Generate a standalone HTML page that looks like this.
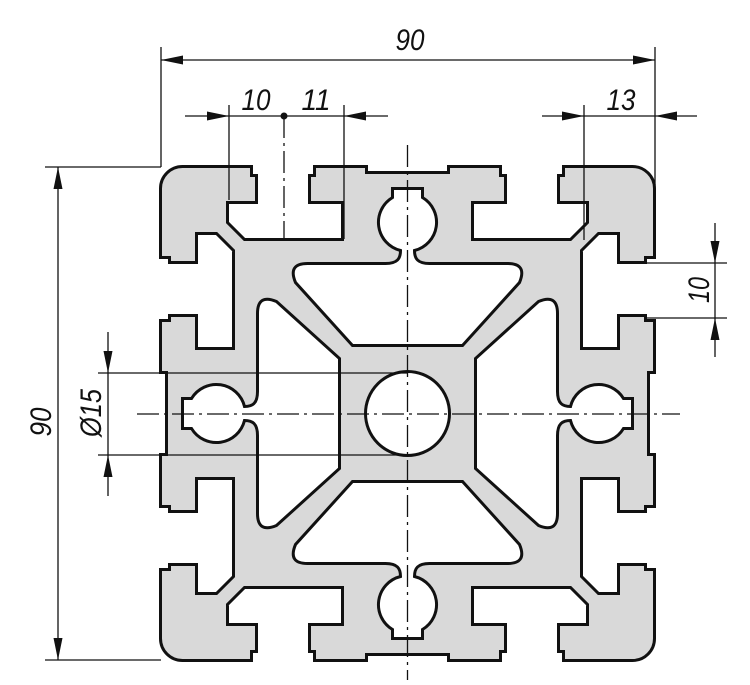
<!DOCTYPE html>
<html><head><meta charset="utf-8"><style>
html,body{margin:0;padding:0;background:#fff}
svg{display:block}
text{font-family:"Liberation Sans",sans-serif;font-style:italic;font-size:30px;fill:#111}
</style></head><body>
<svg width="750" height="685" viewBox="0 0 750 685" xmlns="http://www.w3.org/2000/svg">
<defs>
<path id="cav" d="M -55,-68 L 55,-68 L 112,-131 Q 120,-150 100,-150 L 22,-150 C 10,-150 7,-155 7,-163 A 29 29 0 0 0 15,-216 L 15,-225 L -15,-225 L -15,-216 A 29 29 0 0 0 -7,-163 C -7,-155 -10,-150 -22,-150 L -100,-150 Q -120,-150 -112,-131 Z"/>
</defs>

<g transform="translate(407.5,413.5)">
  <path fill="#d9d9d9" stroke="#111" stroke-width="3" stroke-linejoin="miter" d="
M -247,-225 A 22 22 0 0 1 -225,-247 L -156,-247 L -156,-238 L -151,-238 L -151,-211 L -180,-211 L -180,-191 L -163,-174 L -65,-174 L -65,-211 L -98,-211 L -98,-238 L -93,-238 L -93,-247 L -41,-247 L -41,-241 L 41,-241 L 41,-247 L 93,-247 L 93,-238 L 98,-238 L 98,-211 L 65,-211 L 65,-174 L 163,-174 L 180,-191 L 180,-211 L 151,-211 L 151,-238 L 156,-238 L 156,-247 L 225,-247 A 22 22 0 0 1 247,-225
L 247,-156 L 238,-156 L 238,-151 L 211,-151 L 211,-180 L 191,-180 L 174,-163 L 174,-65 L 211,-65 L 211,-98 L 238,-98 L 238,-93 L 247,-93 L 247,-41 L 241,-41 L 241,41 L 247,41 L 247,93 L 238,93 L 238,98 L 211,98 L 211,65 L 174,65 L 174,163 L 191,180 L 211,180 L 211,151 L 238,151 L 238,156 L 247,156 L 247,225 A 22 22 0 0 1 225,247
L 156,247 L 156,238 L 151,238 L 151,211 L 180,211 L 180,191 L 163,174 L 65,174 L 65,211 L 98,211 L 98,238 L 93,238 L 93,247 L 41,247 L 41,241 L -41,241 L -41,247 L -93,247 L -93,238 L -98,238 L -98,211 L -65,211 L -65,174 L -163,174 L -180,191 L -180,211 L -151,211 L -151,238 L -156,238 L -156,247 L -225,247 A 22 22 0 0 1 -247,225
L -247,156 L -238,156 L -238,151 L -211,151 L -211,180 L -191,180 L -174,163 L -174,65 L -211,65 L -211,98 L -238,98 L -238,93 L -247,93 L -247,41 L -241,41 L -241,-41 L -247,-41 L -247,-93 L -238,-93 L -238,-98 L -211,-98 L -211,-65 L -174,-65 L -174,-163 L -191,-180 L -211,-180 L -211,-151 L -238,-151 L -238,-156 L -247,-156 Z"/>
  <g fill="#fff" stroke="#111" stroke-width="3">
    <use href="#cav"/>
    <use href="#cav" transform="rotate(90)"/>
    <use href="#cav" transform="rotate(180)"/>
    <use href="#cav" transform="rotate(270)"/>
    <circle cx="0" cy="0" r="42"/>
  </g>
</g>

<!-- center lines -->
<g stroke="#111" stroke-width="1.3" fill="none" stroke-dasharray="22,5,3,5">
  <line x1="407.5" y1="145" x2="407.5" y2="680"/>
  <line x1="137" y1="414" x2="680" y2="414"/>
  <line x1="284" y1="116" x2="284" y2="240"/>
</g>
<circle cx="284" cy="116" r="3.5" fill="#111"/>

<!-- dimension lines -->
<g stroke="#111" stroke-width="1.3" fill="none">
  <line x1="161" y1="60" x2="655" y2="60"/>
  <line x1="161" y1="47" x2="161" y2="167"/>
  <line x1="655" y1="47" x2="655" y2="185"/>
  <line x1="185" y1="116" x2="388" y2="116"/>
  <line x1="229" y1="105" x2="229" y2="200"/>
  <line x1="344" y1="105" x2="344" y2="239"/>
  <line x1="542" y1="116" x2="697" y2="116"/>
  <line x1="584" y1="105" x2="584" y2="240"/>
  <line x1="715" y1="223" x2="715" y2="357"/>
  <line x1="645" y1="263" x2="727" y2="263"/>
  <line x1="645" y1="318" x2="727" y2="318"/>
  <line x1="58" y1="167" x2="58" y2="660"/>
  <line x1="45" y1="167" x2="161" y2="167"/>
  <line x1="45" y1="660" x2="161" y2="660"/>
  <line x1="108" y1="332" x2="108" y2="496"/>
  <line x1="98" y1="373" x2="407" y2="373"/>
  <line x1="98" y1="455" x2="407" y2="455"/>
</g>

<g fill="#111">
  <polygon points="161,60 183,55.5 183,64.5"/>
  <polygon points="655,60 633,55.5 633,64.5"/>
  <polygon points="229,116 207,111.5 207,120.5"/>
  <polygon points="344,116 366,111.5 366,120.5"/>
  <polygon points="584,116 562,111.5 562,120.5"/>
  <polygon points="655,116 677,111.5 677,120.5"/>
  <polygon points="715,263 710.5,241 719.5,241"/>
  <polygon points="715,318 710.5,340 719.5,340"/>
  <polygon points="58,167 53.5,189 62.5,189"/>
  <polygon points="58,660 53.5,638 62.5,638"/>
  <polygon points="108,373 103.5,351 112.5,351"/>
  <polygon points="108,455 103.5,477 112.5,477"/>
</g>

<text x="410" y="50" text-anchor="middle" textLength="29" lengthAdjust="spacingAndGlyphs">90</text>
<text x="256" y="110" text-anchor="middle" textLength="29" lengthAdjust="spacingAndGlyphs">10</text>
<text x="316" y="110" text-anchor="middle" textLength="29" lengthAdjust="spacingAndGlyphs">11</text>
<text x="621" y="110" text-anchor="middle" textLength="29" lengthAdjust="spacingAndGlyphs">13</text>
<text transform="translate(709,290) rotate(-90)" text-anchor="middle" textLength="26" lengthAdjust="spacingAndGlyphs">10</text>
<text transform="translate(51,422) rotate(-90)" text-anchor="middle" textLength="29" lengthAdjust="spacingAndGlyphs">90</text>
<text transform="translate(101,413) rotate(-90)" text-anchor="middle" textLength="48" lengthAdjust="spacingAndGlyphs">Ø15</text>
</svg>
</body></html>
